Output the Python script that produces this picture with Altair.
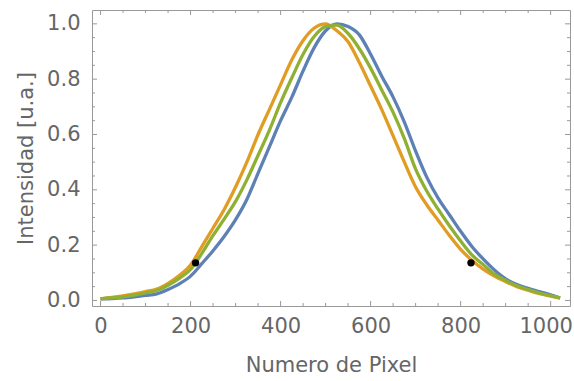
import altair as alt
import pandas as pd

pixel = [0, 25, 50, 75, 100, 125, 150, 175, 200, 225, 250, 275, 300, 325, 350,
         375, 400, 425, 450, 475, 500, 525, 550, 575, 600, 625, 650, 675, 700,
         725, 750, 775, 800, 825, 850, 875, 900, 925, 950, 975, 1000, 1021]
blue = [0.006, 0.007, 0.009, 0.013, 0.018, 0.024, 0.040, 0.060, 0.088, 0.133,
        0.180, 0.232, 0.292, 0.365, 0.460, 0.555, 0.650, 0.735, 0.830, 0.915,
        0.975, 1.000, 0.990, 0.960, 0.890, 0.810, 0.735, 0.645, 0.540, 0.445,
        0.370, 0.310, 0.250, 0.195, 0.150, 0.110, 0.078, 0.058, 0.044, 0.032,
        0.020, 0.009]
orange = [0.006, 0.011, 0.017, 0.024, 0.032, 0.041, 0.062, 0.090, 0.128, 0.195,
          0.262, 0.330, 0.410, 0.500, 0.600, 0.690, 0.780, 0.870, 0.940, 0.985,
          1.000, 0.975, 0.935, 0.860, 0.775, 0.689, 0.595, 0.500, 0.410, 0.345,
          0.290, 0.235, 0.185, 0.145, 0.113, 0.088, 0.068, 0.050, 0.037, 0.025,
          0.016, 0.009]
green = [0.006, 0.009, 0.013, 0.019, 0.027, 0.036, 0.055, 0.080, 0.112, 0.170,
         0.235, 0.295, 0.358, 0.436, 0.525, 0.615, 0.715, 0.805, 0.890, 0.955,
         0.990, 0.995, 0.965, 0.910, 0.840, 0.760, 0.680, 0.585, 0.475, 0.395,
         0.330, 0.270, 0.215, 0.165, 0.130, 0.095, 0.072, 0.053, 0.039, 0.027,
         0.017, 0.009]
series_names = ["blue", "orange", "green"]
series_colors = ["#5E81B5", "#E19C24", "#8FB032"]

marker_x = [211, 823]
marker_y = [0.136, 0.136]

x_major = [0, 200, 400, 600, 800, 1000]
x_minor = [v for v in range(0, 1001, 50) if v % 200 != 0]
y_major = [0.0, 0.2, 0.4, 0.6, 0.8, 1.0]
y_minor = [round(i * 0.05, 2) for i in range(21) if i % 4 != 0]

W, H = 478, 296

font = "DejaVu Sans"
text_color = "#666666"
tick_color = "#999999"

xs = alt.Scale(domain=[-19, 1043], nice=False, zero=False)
ys = alt.Scale(domain=[-0.02, 1.05], nice=False, zero=False)

x_axis = alt.Axis(values=x_major, format="d", domain=False, ticks=False, grid=False,
                  labelFontSize=21, labelColor=text_color, labelFont=font,
                  labelPadding=9,
                  labelOffset={"condition": {"test": "datum.value === 1000", "value": -5},
                               "value": 0},
                  titleFont=font, titleFontSize=21,
                  titleFontWeight="normal", titleColor=text_color, titlePadding=18)
y_axis = alt.Axis(values=y_major, format=".1f", domain=False, ticks=False, grid=False,
                  labelFontSize=21, labelColor=text_color, labelFont=font,
                  labelPadding=12, titleFont=font, titleFontSize=21,
                  titleFontWeight="normal", titleColor=text_color, titlePadding=10)

layers = []
for name, col, vals in zip(series_names, series_colors, [blue, orange, green]):
    d = pd.DataFrame({"pixel": pixel, "val": vals})
    layers.append(
        alt.Chart(d).mark_line(strokeWidth=3.3, color=col, interpolate="monotone").encode(
            x=alt.X("pixel:Q", scale=xs, title="Numero de Pixel", axis=x_axis),
            y=alt.Y("val:Q", scale=ys, title="Intensidad [u.a.]", axis=y_axis),
        )
    )

dots = pd.DataFrame({"pixel": marker_x, "val": marker_y})
points = alt.Chart(dots).mark_circle(size=55, color="black", opacity=1).encode(
    x=alt.X("pixel:Q", scale=xs), y=alt.Y("val:Q", scale=ys))

xmaj = pd.DataFrame({"t": x_major})
xmin = pd.DataFrame({"t": x_minor})
ymaj = pd.DataFrame({"t": y_major})
ymin = pd.DataFrame({"t": y_minor})


def xticks(d, length):
    bottom = alt.Chart(d).mark_rule(color=tick_color, strokeWidth=1).encode(
        x=alt.X("t:Q", scale=xs), y=alt.value(H), y2=alt.value(H - length))
    top = alt.Chart(d).mark_rule(color=tick_color, strokeWidth=1).encode(
        x=alt.X("t:Q", scale=xs), y=alt.value(0), y2=alt.value(length))
    return [bottom, top]


def yticks(d, length):
    left = alt.Chart(d).mark_rule(color=tick_color, strokeWidth=1).encode(
        y=alt.Y("t:Q", scale=ys), x=alt.value(0), x2=alt.value(length))
    right = alt.Chart(d).mark_rule(color=tick_color, strokeWidth=1).encode(
        y=alt.Y("t:Q", scale=ys), x=alt.value(W), x2=alt.value(W - length))
    return [left, right]


ticks = xticks(xmaj, 5) + xticks(xmin, 3) + yticks(ymaj, 5) + yticks(ymin, 3)

chart = alt.layer(*ticks, *layers, points).properties(
    width=W, height=H,
    autosize=alt.AutoSizeParams(type="none"),
    padding={"left": 92, "top": 10, "right": 4, "bottom": 75},
    background="white",
).configure_view(stroke=tick_color, strokeWidth=1)

chart.save("out.html", embed_options={"renderer": "svg", "actions": False})
